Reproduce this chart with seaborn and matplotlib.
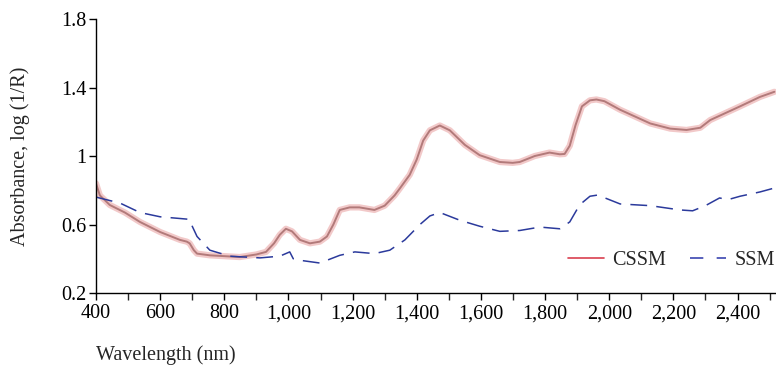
import matplotlib
matplotlib.use("Agg")
import matplotlib.pyplot as plt
import seaborn as sns
import pandas as pd
from matplotlib.lines import Line2D
from matplotlib.ticker import MultipleLocator, FuncFormatter

sns.set_theme(style="ticks")
plt.rcParams['font.family'] = ['Liberation Serif', 'DejaVu Serif']

cssm_wl = [400, 412, 443, 490, 537, 600, 662, 683, 692, 705, 715, 755, 848, 900, 930, 955, 973, 992,
           1011, 1036, 1067, 1098, 1120, 1140, 1160, 1191, 1221, 1268, 1300, 1331, 1347, 1378,
           1400, 1420, 1441, 1472, 1503, 1550, 1596, 1659, 1699, 1721, 1768, 1814, 1846, 1861,
           1877, 1895, 1915, 1940, 1960, 1985, 2034, 2128, 2190, 2241, 2284, 2315, 2408, 2470, 2515]
cssm_val = [0.84, 0.77, 0.714, 0.67, 0.615, 0.556, 0.51, 0.50, 0.49, 0.45, 0.43, 0.42, 0.41, 0.425, 0.44,
            0.49, 0.54, 0.575, 0.56, 0.51, 0.49, 0.50, 0.53, 0.60, 0.685, 0.70, 0.70, 0.685, 0.71,
            0.77, 0.81, 0.89, 0.98, 1.09, 1.15, 1.178, 1.15, 1.065, 1.005, 0.965, 0.96, 0.965, 1.0,
            1.02, 1.01, 1.012, 1.06, 1.18, 1.29, 1.325, 1.33, 1.32, 1.27, 1.19, 1.16, 1.152, 1.165,
            1.21, 1.29, 1.345, 1.375]

ssm_wl = [400, 475, 537, 600, 662, 692, 700, 715, 755, 817, 911, 973, 1004, 1015, 1040, 1098,
          1160, 1207, 1268, 1316, 1363, 1410, 1441, 1472, 1534, 1596, 1659, 1721, 1784, 1846,
          1877, 1908, 1940, 1964, 2034, 2128, 2221, 2260, 2300, 2344, 2370, 2408, 2470, 2515]
ssm_val = [0.76, 0.725, 0.67, 0.645, 0.635, 0.63, 0.59, 0.53, 0.45, 0.415, 0.405, 0.415, 0.44,
           0.40, 0.39, 0.375, 0.42, 0.44, 0.43, 0.45, 0.51, 0.60, 0.65, 0.67, 0.625, 0.59,
           0.56, 0.565, 0.585, 0.575, 0.615, 0.715, 0.765, 0.772, 0.72, 0.71, 0.685, 0.68,
           0.71, 0.755, 0.745, 0.765, 0.79, 0.813]

x_ticks = [400, 600, 800, 1000, 1200, 1400, 1600, 1800, 2000, 2200, 2400]
y_ticks = [0.2, 0.6, 1.0, 1.4, 1.8]
y_labels = ["0.2", "0.6", "1", "1.4", "1.8"]

df_c = pd.DataFrame({"wl": cssm_wl, "abs": cssm_val})
df_s = pd.DataFrame({"wl": ssm_wl, "abs": ssm_val})

FS = 14.5

fig = plt.figure(figsize=(7.76, 3.76), dpi=100)
ax = fig.add_axes([96/776, 1-293/376, 1-96/776, (293-19)/376])

sns.lineplot(data=df_c, x="wl", y="abs", ax=ax, color="#f2c9c9", linewidth=4.5)
sns.lineplot(data=df_c, x="wl", y="abs", ax=ax, color="#b27a7a", linewidth=1.4)
sns.lineplot(data=df_s, x="wl", y="abs", ax=ax, color="#2b3a9c", linewidth=1.1,
             linestyle=(0, (11, 6)))

ax.set_xlim(400, 2520)
ax.set_ylim(0.2, 1.8)
ax.set_xticks(x_ticks)
ax.xaxis.set_minor_locator(MultipleLocator(100))
ax.xaxis.set_major_formatter(FuncFormatter(lambda v, p: f"{int(v):,}"))
ax.set_yticks(y_ticks)
ax.set_yticklabels(y_labels)
ax.tick_params(axis="both", labelsize=FS, colors="black", length=5, width=1, direction="out")
ax.tick_params(axis="x", which="both", length=5, width=1, pad=3)
ax.tick_params(axis="y", pad=2)
for s in ["top", "right"]:
    ax.spines[s].set_visible(False)
for s in ["left", "bottom"]:
    ax.spines[s].set_color("black")
    ax.spines[s].set_linewidth(1)

ax.set_xlabel("")
ax.set_ylabel("Absorbance, log (1/R)", fontsize=FS, labelpad=22)
fig.text(96/776, 1-355/376, "Wavelength (nm)", fontsize=FS, ha="left", va="center")

handles = [Line2D([], [], color="#d9404f", lw=1.2),
           Line2D([], [], color="#3b45b0", lw=1.2, linestyle=(0, (8, 8)))]
ax.legend(handles, ["CSSM", "SSM"], loc="center right", bbox_to_anchor=(1.025, 0.12),
          ncol=2, frameon=False, fontsize=FS, handlelength=1.8, columnspacing=1.2,
          handletextpad=0.4)

fig.savefig("out.png", dpi=100)
